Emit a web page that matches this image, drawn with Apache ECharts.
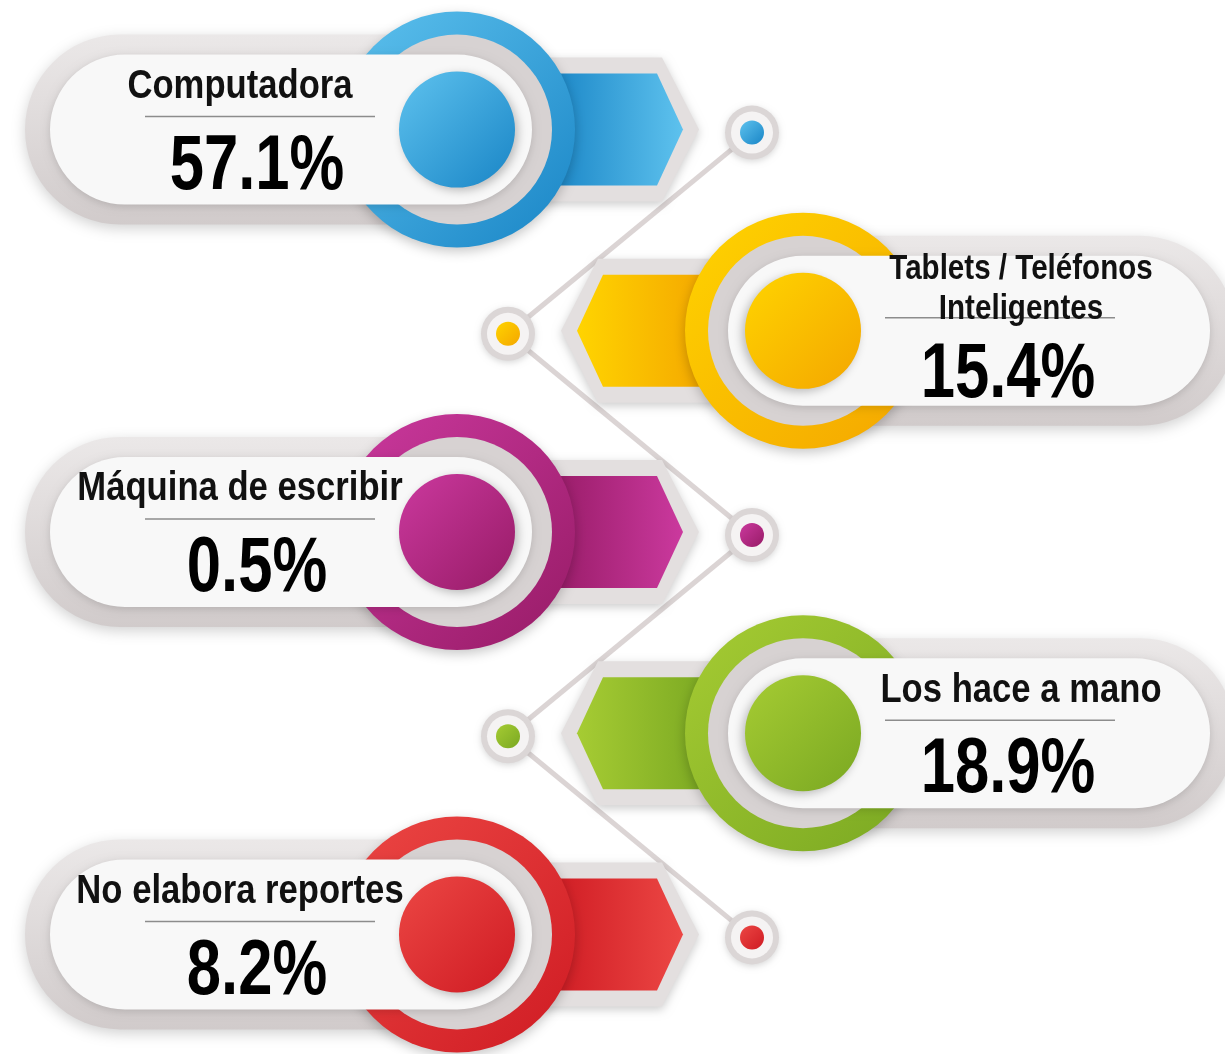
<!DOCTYPE html>
<html>
<head>
<meta charset="utf-8">
<title>Medio para elaborar reportes</title>
<script src="https://cdn.jsdelivr.net/npm/echarts@6/dist/echarts.min.js"></script>
<style>
  html, body { margin: 0; padding: 0; background: #fff; }
  #chart { width: 1225px; height: 1054px; }
</style>
</head>
<body>
<div id="chart"></div>
<script>
  // datos
  var categories = ['Computadora', 'Tablets / Teléfonos\nInteligentes', 'Máquina de escribir', 'Los hace a mano', 'No elabora reportes'];
  var values = [57.1, 15.4, 0.5, 18.9, 8.2];
  // colores por fila (oscuro / claro)
  var darkColors = ['#1985c6', '#f4a600', '#971b66', '#7aa822', '#cf1b23'];
  var lightColors = ['#5ec2ee', '#ffd400', '#cb399e', '#a6cc33', '#ec4744'];

  var FONT = "'Liberation Sans', Arial, sans-serif";
  var NARROW = 0.845;        // la fuente original es condensada
  var RING_X = [457, 803];   // centro del anillo: fila izquierda / derecha
  var DOT_OFF = 295;         // distancia del punto conector al anillo
  var TITLE_X = [-217, -218];
  var VALUE_X = [-200, -205];

  var chart = echarts.init(document.getElementById('chart'));

  function grad(x, y, x2, y2, c1, c2) {
    return new echarts.graphic.LinearGradient(x, y, x2, y2, [
      {offset: 0, color: c1}, {offset: 1, color: c2}
    ]);
  }

  function rowInfo(api, i) {
    var side = i % 2;
    var c = api.coord([RING_X[side], i]);
    return {side: side, d: side ? -1 : 1, cx: c[0], cy: c[1]};
  }

  function renderLinks(params, api) {
    var i = api.value(0);
    if (i === 0) return;
    var a = rowInfo(api, i - 1), b = rowInfo(api, i);
    return {
      type: 'line',
      shape: {x1: a.cx + a.d * DOT_OFF, y1: a.cy + 3, x2: b.cx + b.d * DOT_OFF, y2: b.cy + 3},
      style: {stroke: '#dbd4d4', lineWidth: 5}
    };
  }

  function renderCard(params, api) {
    var i = api.value(0);
    var r = rowInfo(api, i);
    var cx = r.cx, cy = r.cy, d = r.d;
    var X = function (rx) { return cx + d * rx; };
    var dark = darkColors[i], light = lightColors[i];
    var span = function (a, b) { return {x: Math.min(X(a), X(b)), w: Math.abs(X(b) - X(a))}; };
    var outer = span(-432, 103);
    var inner = span(-407, 75);
    var hexBack = [[83, -72], [205, -72], [242, 0], [205, 72], [83, 72]].map(function (p) { return [X(p[0]), cy + p[1]]; });
    var hex = [[92, -56], [200, -56], [226, 0], [200, 56], [92, 56]].map(function (p) { return [X(p[0]), cy + p[1]]; });
    var lines = String(categories[i]).split('\n').length;
    var titleSize = lines > 1 ? 35 : 41;
    var dot = X(DOT_OFF);

    return {
      type: 'group',
      children: [
        // pastilla gris exterior
        {type: 'rect', shape: {x: outer.x, y: cy - 95, width: outer.w, height: 190, r: 95},
          style: {fill: grad(0, 0, 0, 1, '#ebe8e8', '#d1cbcb'), shadowBlur: 14, shadowOffsetY: 4, shadowColor: 'rgba(0,0,0,0.18)'}},
        // flecha hexagonal
        {type: 'polygon', shape: {points: hexBack},
          style: {fill: '#e3dfdf', shadowBlur: 10, shadowOffsetY: 3, shadowColor: 'rgba(0,0,0,0.2)'}},
        {type: 'polygon', shape: {points: hex},
          style: {fill: grad(d > 0 ? 0 : 1, 0, d > 0 ? 1 : 0, 0, dark, light)}},
        // anillo grande
        {type: 'circle', shape: {cx: cx, cy: cy, r: 118},
          style: {fill: grad(0, 0, 1, 1, light, dark), shadowBlur: 12, shadowOffsetY: 4, shadowColor: 'rgba(0,0,0,0.22)'}},
        {type: 'circle', shape: {cx: cx, cy: cy, r: 95}, style: {fill: '#d7d2d2'}},
        // pastilla blanca
        {type: 'rect', shape: {x: inner.x, y: cy - 75, width: inner.w, height: 150, r: 75},
          style: {fill: '#f8f8f8', shadowBlur: 8, shadowOffsetY: 2, shadowColor: 'rgba(0,0,0,0.15)'}},
        // disco de color
        {type: 'circle', shape: {cx: cx, cy: cy, r: 58},
          style: {fill: grad(0, 0, 1, 1, light, dark), shadowBlur: 10, shadowOffsetX: d * 3, shadowOffsetY: 3, shadowColor: 'rgba(0,0,0,0.25)'}},
        // separador
        {type: 'line', shape: {x1: X(-312), y1: cy - 13, x2: X(-82), y2: cy - 13},
          style: {stroke: '#8c8c8c', lineWidth: 1.5}},
        {type: 'text', x: X(TITLE_X[r.side]), y: cy - 43 + (lines - 1) * 2, scaleX: NARROW,
          style: {text: categories[i], fill: '#111', font: 'bold ' + titleSize + 'px ' + FONT, lineHeight: 40,
            align: 'center', verticalAlign: 'middle'}},
        {type: 'text', x: X(VALUE_X[r.side]), y: cy + 38 + (lines - 1) * 7, scaleX: 0.8,
          style: {text: values[i].toFixed(1) + '%', fill: '#000', font: 'bold 77px ' + FONT,
            align: 'center', verticalAlign: 'middle'}},
        // punto conector
        {type: 'circle', shape: {cx: dot, cy: cy + 3, r: 27},
          style: {fill: '#dbd6d6', shadowBlur: 6, shadowOffsetY: 2, shadowColor: 'rgba(0,0,0,0.15)'}},
        {type: 'circle', shape: {cx: dot, cy: cy + 3, r: 21}, style: {fill: '#f5f3f3'}},
        {type: 'circle', shape: {cx: dot, cy: cy + 3, r: 12}, style: {fill: grad(0, 0, 1, 1, light, dark)}}
      ]
    };
  }

  var seriesData = categories.map(function (c, i) { return [c, values[i]]; });

  chart.setOption({
    animation: false,
    backgroundColor: '#ffffff',
    grid: {left: 0, right: 0, top: 29, bottom: 19},
    xAxis: {type: 'value', min: 0, max: 1225, show: false},
    yAxis: {type: 'category', data: categories, inverse: true, show: false},
    series: [
      {type: 'custom', z: 1, renderItem: renderLinks, data: seriesData, encode: {y: 0, x: 1}},
      {type: 'custom', z: 2, renderItem: renderCard, data: seriesData, encode: {y: 0, x: 1}}
    ]
  });
</script>
</body>
</html>
